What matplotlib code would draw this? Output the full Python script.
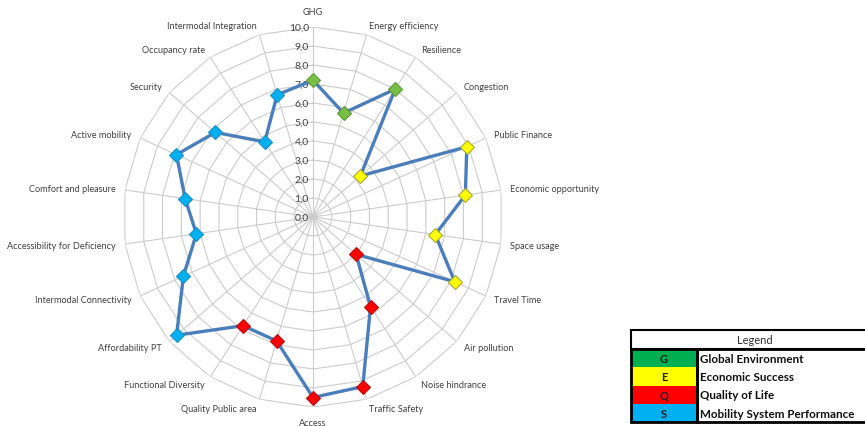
import numpy as np
import matplotlib.pyplot as plt
from matplotlib.patches import Rectangle

plt.rcParams['font.family'] = ['Lato', 'DejaVu Sans']

# indicators, clockwise from the top
categories = ['GHG', 'Energy efficiency', 'Resilience', 'Congestion', 'Public Finance',
              'Economic opportunity', 'Space usage', 'Travel Time', 'Air pollution',
              'Noise hindrance', 'Traffic Safety', 'Access', 'Quality Public area',
              'Functional Diversity', 'Affordability PT', 'Intermodal Connectivity',
              'Accessibility for Deficiency', 'Comfort and pleasure', 'Active mobility',
              'Security', 'Occupancy rate', 'Intermodal Integration']
scores = [7.2, 5.7, 8.0, 3.3, 8.9, 8.1, 6.5, 8.2, 3.0, 5.6, 9.3, 9.5, 6.8, 6.8,
          9.5, 7.5, 6.2, 6.8, 7.9, 6.8, 4.7, 6.7]
groups = ['G'] * 3 + ['E'] * 5 + ['Q'] * 6 + ['S'] * 8

legend_codes = ['G', 'E', 'Q', 'S']
legend_names = ['Global Environment', 'Economic Success', 'Quality of Life',
                'Mobility System Performance']
legend_colors = ['#00B050', '#FFFF00', '#FF0000', '#00B0F0']

marker_face = {'G': '#77BF45', 'E': '#FFFF00', 'Q': '#FF0000', 'S': '#00B0F0'}
marker_edge = {'G': '#5E9A35', 'E': '#A6A63A', 'Q': '#B01010', 'S': '#1A8FC0'}

W, H = 865, 427
fig = plt.figure(figsize=(W / 100, H / 100), dpi=100)

# polar area: centre (313, 218) px, radius 190 px
cx, cy, R = 313, 218, 190
ax = fig.add_axes([(cx - R) / W, (H - cy - R) / H, 2 * R / W, 2 * R / H], projection='polar')
ax.set_theta_zero_location('N')
ax.set_theta_direction(-1)
ax.set_ylim(0, 10)
ax.grid(False)
ax.spines['polar'].set_visible(False)
ax.set_xticks([])
ax.set_yticks([])
ax.patch.set_alpha(0)

n = len(categories)
angles = np.arange(n) * 2 * np.pi / n
closed = np.append(angles, angles[0])

# polygon grid
for lvl in range(1, 11):
    ax.plot(closed, [lvl] * (n + 1), color='#CCCCCC', lw=0.8, zorder=1)
for a in angles:
    ax.plot([a, a], [0, 10], color='#CCCCCC', lw=0.8, zorder=1)

# radial labels
for lvl in range(0, 11):
    ax.annotate(f'{lvl},0', xy=(0, lvl), xytext=(-3, 0), textcoords='offset points',
                ha='right', va='center', fontsize=7.5, color='#404040')

# series
ax.plot(closed, scores + scores[:1], color='#4A7EBB', lw=2.4, zorder=3)
for a, v, g in zip(angles, scores, groups):
    ax.plot(a, v, marker='D', ms=7, mfc=marker_face[g], mec=marker_edge[g],
            mew=0.8, zorder=4)

# category labels
for a, lab in zip(angles, categories):
    s = np.sin(a)
    if abs(s) < 0.05:
        ax.text(a, 10.8, lab, ha='center', va='center', fontsize=6.6, color='#404040')
    else:
        ax.text(a, 10.5, lab, ha='left' if s > 0 else 'right', va='center',
                fontsize=6.6, color='#404040')

# legend table, drawn in pixel coordinates
lg = fig.add_axes([0, 0, 1, 1])
lg.set_xlim(0, W)
lg.set_ylim(H, 0)
lg.axis('off')
x0, x1, xr = 631, 697, 878
top, head_h, row_h = 331, 19, 18.3
lg.add_patch(Rectangle((x0, top), xr - x0, head_h, fc='white', ec='black', lw=1.5))
lg.text((x0 + xr) / 2, top + head_h / 2, 'Legend', ha='center', va='center',
        fontsize=8, color='#303030')
for i, (code, name, col) in enumerate(zip(legend_codes, legend_names, legend_colors)):
    y = top + head_h + i * row_h
    lg.add_patch(Rectangle((x0, y), x1 - x0, row_h, fc=col, ec='none'))
    lg.text((x0 + x1) / 2, y + row_h / 2, code, ha='center', va='center',
            fontsize=8, fontweight='bold', color='#202020')
    lg.text(x1 + 3, y + row_h / 2, name, ha='left', va='center',
            fontsize=8.4, fontweight='bold', color='#101010')
lg.add_patch(Rectangle((x0, top + head_h), x1 - x0, 4 * row_h, fc='none', ec='black', lw=2))
lg.add_patch(Rectangle((x1, top + head_h), xr - x1, 4 * row_h, fc='none', ec='black', lw=2))

fig.savefig('out.png', dpi=100)
